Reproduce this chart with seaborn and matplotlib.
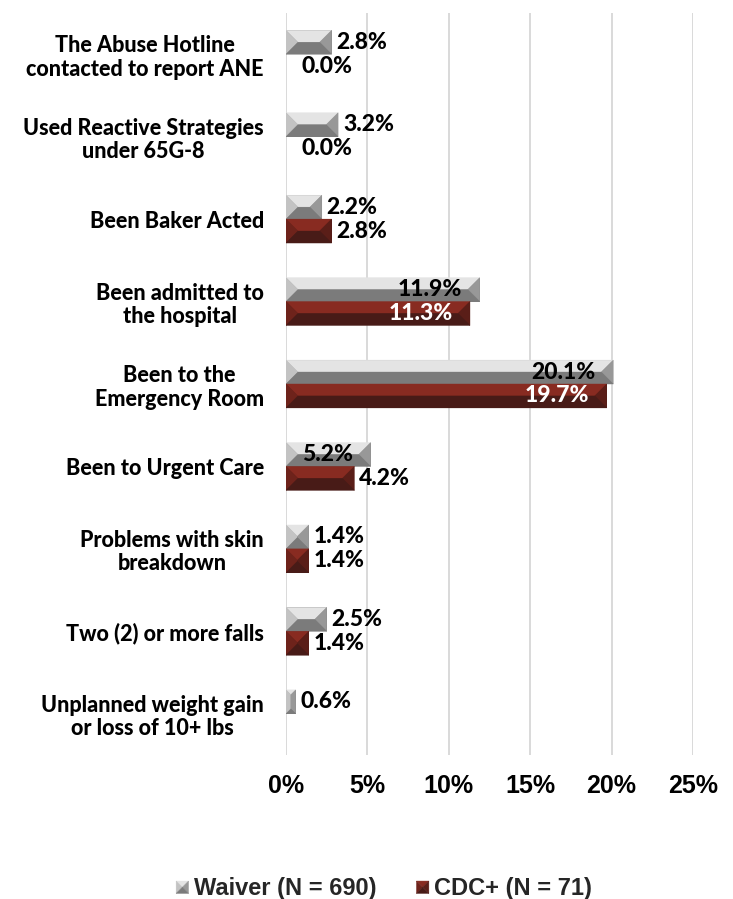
import numpy as np
import pandas as pd
import matplotlib
matplotlib.use("Agg")
import matplotlib.pyplot as plt
import seaborn as sns
from matplotlib.patches import Polygon, Patch
from matplotlib.legend_handler import HandlerBase

# ---- data -------------------------------------------------------------
categories = [
    "The Abuse Hotline\ncontacted to report ANE",
    "Used Reactive Strategies\nunder 65G-8",
    "Been Baker Acted",
    "Been admitted to\nthe hospital",
    "Been to the\nEmergency Room",
    "Been to Urgent Care",
    "Problems with skin\nbreakdown",
    "Two (2) or more falls",
    "Unplanned weight gain\nor loss of 10+ lbs",
]
waiver = [2.8, 3.2, 2.2, 11.9, 20.1, 5.2, 1.4, 2.5, 0.6]
cdc_plus = [0.0, 0.0, 2.8, 11.3, 19.7, 4.2, 1.4, 1.4, np.nan]
series = ["Waiver (N = 690)", "CDC+ (N = 71)"]
xticks = [0, 5, 10, 15, 20, 25]
xtick_labels = ["0%", "5%", "10%", "15%", "20%", "25%"]

# ---- styling ----------------------------------------------------------
# bevel face colours: top, left, right, bottom
faces = {
    series[0]: ["#e4e4e4", "#c3c3c3", "#989898", "#7b7b7b"],
    series[1]: ["#882b21", "#6e231b", "#5a1e18", "#481b17"],
}
palette = {s: faces[s][3] for s in series}
label_font = "Lato"
axis_font = "Liberation Sans"

sns.set_theme(style="white")
plt.rcParams["font.family"] = ["Liberation Sans", "DejaVu Sans"]

df = pd.DataFrame({
    "category": categories * 2,
    "value": waiver + cdc_plus,
    "series": [series[0]] * len(categories) + [series[1]] * len(categories),
}).dropna()

W, H = 733, 899
fig = plt.figure(figsize=(W / 100, H / 100), dpi=100)
ax = fig.add_axes([286 / W, 1 - 755 / H, (693 - 286) / W, (755 - 13) / H])

sns.barplot(data=df, y="category", x="value", hue="series",
            order=categories, hue_order=series, palette=palette,
            orient="h", width=0.58, dodge=True, legend=False,
            linewidth=0, saturation=1, ax=ax)

ax.set_xlim(0, 25)
ax.set_ylim(len(categories) - 0.5, -0.5)
ax.set_xlabel("")
ax.set_ylabel("")
for sp in ax.spines.values():
    sp.set_visible(False)
ax.set_axisbelow(True)
ax.xaxis.grid(True, color="#d9d9d9", linewidth=1.4)
ax.yaxis.grid(False)
ax.tick_params(axis="both", length=0)
ax.set_xticks(xticks)
ax.set_xticklabels(xtick_labels, fontfamily=axis_font, fontweight="bold",
                   fontsize=18, color="black")
ax.tick_params(axis="x", pad=14)
ax.set_yticks(range(len(categories)))
ax.set_yticklabels(categories, fontfamily=label_font, fontweight="black",
                   fontsize=15.5, color="black", linespacing=1.15)
for t in ax.get_yticklabels():
    t.set_multialignment("center")
ax.tick_params(axis="y", pad=16)


def bevel(ax, x0, yt, w, h, cols):
    """Draw a hip-roof bevelled bar over the rectangle (x0, yt, w, h)."""
    sx = ax.bbox.width / abs(np.diff(ax.get_xlim())[0])
    sy = ax.bbox.height / abs(np.diff(ax.get_ylim())[0])
    b = min(w * sx, h * sy) / 2
    bx, by = b / sx, b / sy
    x1, yb = x0 + w, yt + h
    # with the inverted y axis, yt (smaller y) is the visual top
    ix0, ix1 = x0 + bx, x1 - bx
    iyt, iyb = yt + by, yb - by
    polys = [
        [(x0, yt), (x1, yt), (ix1, iyt), (ix0, iyt)],      # top
        [(x0, yt), (ix0, iyt), (ix0, iyb), (x0, yb)],      # left
        [(x1, yt), (ix1, iyt), (ix1, iyb), (x1, yb)],      # right
        [(x0, yb), (x1, yb), (ix1, iyb), (ix0, iyb)],      # bottom
    ]
    for p, c in zip(polys, cols):
        ax.add_patch(Polygon(p, closed=True, facecolor=c, edgecolor=c,
                             linewidth=0.3, zorder=3))


for s, cont in zip(series, ax.containers):
    for patch, val in zip(cont.patches, cont.datavalues):
        if np.isnan(val):
            continue
        x0, y0 = patch.get_x(), patch.get_y()
        w, h = patch.get_width(), patch.get_height()
        if w > 0:
            bevel(ax, x0, y0, w, h, faces[s])
        yc = y0 + h / 2
        txt = f"{val:.1f}%"
        if val >= 5:
            color = "white" if s == series[1] else "black"
            ax.annotate(txt, (x0 + w, yc), xytext=(-12.5, 0),
                        textcoords="offset points", ha="right", va="center",
                        fontfamily=label_font, fontweight="black",
                        fontsize=16.5, color=color, zorder=5)
        else:
            off = 11.5 if val == 0 else 3.5
            ax.annotate(txt, (x0 + w, yc), xytext=(off, 0),
                        textcoords="offset points", ha="left", va="center",
                        fontfamily=label_font, fontweight="black",
                        fontsize=16.5, color="black", zorder=5)


class BevelHandler(HandlerBase):
    def __init__(self, cols):
        super().__init__()
        self.cols = cols

    def create_artists(self, legend, orig_handle, xdescent, ydescent,
                       width, height, fontsize, trans):
        s = 0.75 * min(width, height)
        x0 = -xdescent + (width - s) / 2
        y0 = -ydescent + (height - s) / 2
        cx, cy = x0 + s / 2, y0 + s / 2
        tl, tr = (x0, y0 + s), (x0 + s, y0 + s)
        bl, br = (x0, y0), (x0 + s, y0)
        tris = [[tl, tr, (cx, cy)], [tl, bl, (cx, cy)],
                [tr, br, (cx, cy)], [bl, br, (cx, cy)]]
        return [Polygon(t, closed=True, facecolor=c, edgecolor=c,
                        linewidth=0.3, transform=trans)
                for t, c in zip(tris, self.cols)]


handles = [Patch(label=s) for s in series]
fig.legend(handles=handles, labels=series, loc="center",
           bbox_to_anchor=(0.522, 1 - 889 / H), ncol=2, frameon=False,
           handler_map={h: BevelHandler(faces[s]) for h, s in zip(handles, series)},
           prop={"family": axis_font, "weight": "bold", "size": 17},
           handlelength=0.75, handletextpad=0.1, columnspacing=1.6)

fig.savefig("out.png", dpi=100, facecolor="white")
